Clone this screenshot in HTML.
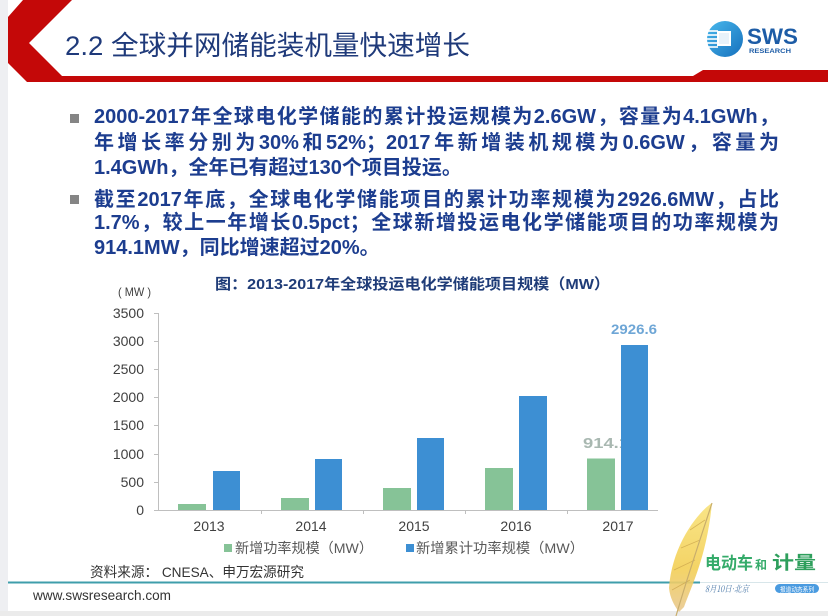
<!DOCTYPE html>
<html>
<head>
<meta charset="utf-8">
<style>
  html,body{margin:0;padding:0;}
  body{width:828px;height:616px;position:relative;overflow:hidden;background:#ffffff;
       font-family:"Liberation Sans","Noto Sans CJK SC",sans-serif;}
  svg{position:absolute;left:0;top:0;}
  .ln{position:absolute;left:94px;height:26px;line-height:26px;font-size:20px;font-weight:bold;
      color:#1c3d8f;white-space:nowrap;font-family:"Liberation Sans","Noto Sans CJK SC",sans-serif;}
  .j{width:685px;text-align:justify;text-align-last:justify;text-justify:inter-character;}
  .sq{position:absolute;left:70px;width:9px;height:9px;background:#858585;}
</style>
</head>
<body>
<svg width="828" height="616" viewBox="0 0 828 616" xmlns="http://www.w3.org/2000/svg">
  <defs>
    <linearGradient id="lg" x1="0" y1="0" x2="1" y2="1">
      <stop offset="0" stop-color="#48b8ec"/>
      <stop offset="1" stop-color="#1670bd"/>
    </linearGradient>
    <linearGradient id="fg" x1="0" y1="0" x2="0" y2="1">
      <stop offset="0" stop-color="#f8e27a"/>
      <stop offset="0.6" stop-color="#f3cf55"/>
      <stop offset="1" stop-color="#e8c890"/>
    </linearGradient>
  </defs>
  <!-- page margins -->
  <rect x="0" y="0" width="8" height="616" fill="#eeeff2"/>
  <rect x="0" y="611" width="828" height="5" fill="#ebebeb"/>
  <!-- header red chevron -->
  <polygon points="23,0 72,0 29,43 62,76 693,76 703,70 828,70 828,82 27,82 8,63 8,17" fill="#c40808"/>
  <!-- title -->
  <text x="65" y="55" font-family="Liberation Sans, Noto Sans CJK SC, sans-serif" font-size="27" fill="#1f3a7a" textLength="405" lengthAdjust="spacingAndGlyphs">2.2 全球并网储能装机量快速增长</text>
  <!-- logo -->
  <circle cx="725" cy="39" r="18" fill="url(#lg)"/>
  <g stroke="#ffffff" stroke-width="1.6">
    <line x1="707" y1="31" x2="718" y2="31"/>
    <line x1="707" y1="35" x2="718" y2="35"/>
    <line x1="707" y1="39" x2="718" y2="39"/>
    <line x1="707" y1="43" x2="718" y2="43"/>
    <line x1="708" y1="47" x2="718" y2="47"/>
  </g>
  <rect x="717" y="31" width="14" height="15" fill="#ffffff"/>
  <rect x="719" y="33" width="10" height="11" fill="#e8f2fa"/>
  <text x="747" y="44" font-family="Liberation Sans, sans-serif" font-size="22" font-weight="bold" fill="#1d5ca6" textLength="51" lengthAdjust="spacingAndGlyphs">SWS</text>
  <text x="749" y="53" font-family="Liberation Sans, sans-serif" font-size="6.5" font-weight="bold" fill="#1d5ca6" textLength="42" lengthAdjust="spacingAndGlyphs">RESEARCH</text>

  <!-- chart title -->
  <text x="215" y="289" font-family="Liberation Sans, Noto Sans CJK SC, sans-serif" font-size="15" font-weight="bold" fill="#1f3c78" textLength="395" lengthAdjust="spacingAndGlyphs">图：2013-2017年全球投运电化学储能项目规模（MW）</text>
  <text x="118" y="296" font-family="Liberation Sans, sans-serif" font-size="12" fill="#404040" textLength="33" lengthAdjust="spacingAndGlyphs">( MW )</text>

  <!-- y axis -->
  <g font-family="Liberation Sans, sans-serif" font-size="14" fill="#404040" text-anchor="end">
    <text x="144" y="318">3500</text>
    <text x="144" y="346">3000</text>
    <text x="144" y="374">2500</text>
    <text x="144" y="402">2000</text>
    <text x="144" y="430">1500</text>
    <text x="144" y="459">1000</text>
    <text x="144" y="487">500</text>
    <text x="144" y="515">0</text>
  </g>
  <g stroke="#bfbfbf" stroke-width="1">
    <line x1="158.5" y1="313" x2="158.5" y2="510"/>
    <line x1="154" y1="313.5" x2="158" y2="313.5"/>
    <line x1="154" y1="341.5" x2="158" y2="341.5"/>
    <line x1="154" y1="369.5" x2="158" y2="369.5"/>
    <line x1="154" y1="397.5" x2="158" y2="397.5"/>
    <line x1="154" y1="425.5" x2="158" y2="425.5"/>
    <line x1="154" y1="454.5" x2="158" y2="454.5"/>
    <line x1="154" y1="482.5" x2="158" y2="482.5"/>
    <line x1="154" y1="510.5" x2="658" y2="510.5"/>
    <line x1="261.5" y1="510" x2="261.5" y2="514"/>
    <line x1="363.5" y1="510" x2="363.5" y2="514"/>
    <line x1="465.5" y1="510" x2="465.5" y2="514"/>
    <line x1="567.5" y1="510" x2="567.5" y2="514"/>
  </g>

  <!-- labels behind bars -->
  <text x="583" y="448" font-family="Liberation Sans, sans-serif" font-size="15" font-weight="bold" fill="#a9b8b1" textLength="46" lengthAdjust="spacingAndGlyphs">914.1</text>
  <text x="611" y="334" font-family="Liberation Sans, sans-serif" font-size="14" font-weight="bold" fill="#6ea6d6" textLength="46" lengthAdjust="spacingAndGlyphs">2926.6</text>

  <!-- bars -->
  <g fill="#86c397">
    <rect x="178" y="504" width="28" height="6"/>
    <rect x="281" y="498" width="28" height="12"/>
    <rect x="383" y="488" width="28" height="22"/>
    <rect x="485" y="468" width="28" height="42"/>
    <rect x="587" y="458.5" width="28" height="51.5"/>
  </g>
  <g fill="#3d8fd3">
    <rect x="213" y="471" width="27" height="39"/>
    <rect x="315" y="459" width="27" height="51"/>
    <rect x="417" y="438" width="27" height="72"/>
    <rect x="519" y="396" width="28" height="114"/>
    <rect x="621" y="345" width="27" height="165"/>
  </g>

  <!-- x labels -->
  <g font-family="Liberation Sans, sans-serif" font-size="14" fill="#404040" text-anchor="middle">
    <text x="209" y="531">2013</text>
    <text x="311" y="531">2014</text>
    <text x="414" y="531">2015</text>
    <text x="516" y="531">2016</text>
    <text x="618" y="531">2017</text>
  </g>

  <!-- legend -->
  <rect x="224" y="544" width="8" height="8" fill="#86c397"/>
  <text x="235" y="553" font-family="Liberation Sans, Noto Sans CJK SC, sans-serif" font-size="14" fill="#595959" textLength="138" lengthAdjust="spacingAndGlyphs">新增功率规模（MW）</text>
  <rect x="406" y="544" width="8" height="8" fill="#3d8fd3"/>
  <text x="416" y="553" font-family="Liberation Sans, Noto Sans CJK SC, sans-serif" font-size="14" fill="#595959" textLength="168" lengthAdjust="spacingAndGlyphs">新增累计功率规模（MW）</text>

  <!-- source -->
  <text x="90" y="577" font-family="Liberation Sans, Noto Sans CJK SC, sans-serif" font-size="14" fill="#333333" textLength="214" lengthAdjust="spacingAndGlyphs">资料来源： CNESA、申万宏源研究</text>
  <line x1="8" y1="582.5" x2="700" y2="582.5" stroke="#3f9eab" stroke-width="2"/>
  <text x="33" y="600" font-family="Liberation Sans, sans-serif" font-size="14" fill="#333333" textLength="138" lengthAdjust="spacingAndGlyphs">www.swsresearch.com</text>

  <!-- watermark -->
  <line x1="700" y1="582.5" x2="828" y2="582.5" stroke="#d8e6ea" stroke-width="1"/>
  <path d="M712,503 C698,512 672,545 669,588 C670,598 674,605 679,612 L684,607 C692,585 707,555 712,503 Z" fill="url(#fg)" opacity="0.9"/>
  <g stroke="#c9a24a" stroke-width="0.8" opacity="0.7">
    <line x1="705" y1="520" x2="690" y2="530"/>
    <line x1="700" y1="540" x2="681" y2="548"/>
    <line x1="695" y1="560" x2="674" y2="570"/>
    <line x1="690" y1="580" x2="672" y2="590"/>
  </g>
  <path d="M712,503 C700,540 688,575 676,616" fill="none" stroke="#c8ad6c" stroke-width="1.2"/>
  <text x="705" y="569" font-family="Noto Sans CJK SC, sans-serif" font-size="17" font-weight="bold" fill="#35ab6a" textLength="48" lengthAdjust="spacingAndGlyphs">电动车</text>
  <text x="755" y="569" font-family="Noto Sans CJK SC, sans-serif" font-size="12" font-weight="bold" fill="#35ab6a">和</text>
  <text x="772" y="569" font-family="Noto Sans CJK SC, sans-serif" font-size="18" font-weight="bold" fill="#2e9f5c" textLength="44" lengthAdjust="spacingAndGlyphs">计量</text>
  <text x="705" y="592" font-family="Noto Serif CJK SC, serif" font-size="9" font-style="italic" fill="#4a78a8" textLength="44" lengthAdjust="spacingAndGlyphs">8月10日·北京</text>
  <rect x="775" y="584" width="44" height="9" rx="4.5" fill="#4a9be0"/>
  <text x="780" y="591.5" font-family="Noto Sans CJK SC, sans-serif" font-size="6.5" fill="#ffffff" textLength="34" lengthAdjust="spacingAndGlyphs">报道动态系列</text>
</svg>

<!-- bullets -->
<div class="sq" style="top:114px;"></div>
<div class="ln j" style="top:104px;">2000-2017年全球电化学储能的累计投运规模为2.6GW，容量为4.1GWh，</div>
<div class="ln j" style="top:130px;">年增长率分别为30%和52%；2017年新增装机规模为0.6GW，容量为</div>
<div class="ln" style="top:155px;">1.4GWh，全年已有超过130个项目投运。</div>

<div class="sq" style="top:195px;"></div>
<div class="ln j" style="top:187px;">截至2017年底，全球电化学储能项目的累计功率规模为2926.6MW，占比</div>
<div class="ln j" style="top:210px;">1.7%，较上一年增长0.5pct；全球新增投运电化学储能项目的功率规模为</div>
<div class="ln" style="top:235px;">914.1MW，同比增速超过20%。</div>
</body>
</html>
